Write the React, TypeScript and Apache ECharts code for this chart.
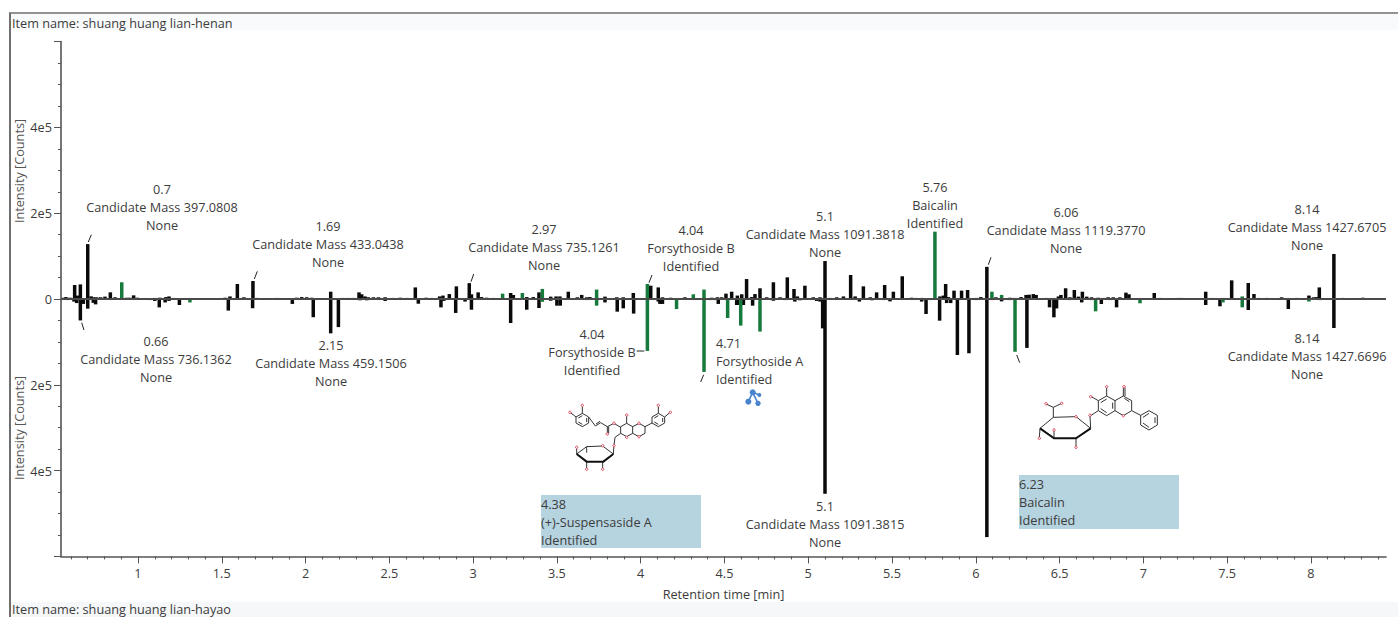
import React, { useEffect, useRef } from "react";
import * as echarts from "echarts";

const xMajorTicks = [1, 1.5, 2, 2.5, 3, 3.5, 4, 4.5, 5, 5.5, 6, 6.5, 7, 7.5, 8];
const xMinorTicks = [0.6,0.7,0.8,0.9,1.1,1.2,1.3,1.4,1.6,1.7,1.8,1.9,2.1,2.2,2.3,2.4,2.6,2.7,2.8,2.9,3.1,3.2,3.3,3.4,3.6,3.7,3.8,3.9,4.1,4.2,4.3,4.4,4.6,4.7,4.8,4.9,5.1,5.2,5.3,5.4,5.6,5.7,5.8,5.9,6.1,6.2,6.3,6.4,6.6,6.7,6.8,6.9,7.1,7.2,7.3,7.4,7.6,7.7,7.8,7.9,8.1,8.2,8.3,8.4];

// [retention time, intensity] : sample above the axis
const upperBlack: [number, number][] = [
  [.555,3000],[.57,4500],[.594,3000],[.622,32600],[.638,8000],[.656,34000],[.70,128000],[.72,6200],[.733,4000],[.749,4000],[.763,3000],[.777,4000],[.803,5500],[.835,15500],[.863,4000],[.932,3000],[.952,3000],[.974,8500],[.996,3000],
  [1.07,1500],[1.10,2500],[1.13,3000],[1.167,4500],[1.185,6000],[1.21,2500],[1.25,1500],[1.34,1500],[1.37,1500],[1.4,1500],[1.43,1000],[1.49,1500],[1.52,3000],[1.549,6000],[1.593,35000],[1.632,4000],[1.686,42000],[1.71,2500],[1.74,1500],[1.77,1500],[1.828,2500],[1.86,1500],[1.92,1500],[1.947,3000],[1.977,4500],[2.007,4000],[2.036,3000],[2.07,1500],[2.15,17000],
  [2.225,2500],[2.255,2500],[2.285,2500],[2.319,15500],[2.335,11000],[2.355,6000],[2.375,4000],[2.405,4000],[2.435,4000],[2.475,4000],[2.525,2500],[2.565,3000],[2.605,2500],[2.655,27000],[2.72,3000],[2.75,2500],[2.8,6000],[2.82,8000],[2.858,11500],[2.90,29500],[2.977,37000],[2.99,11000],[3.03,15500],[3.05,4500],[3.08,3000],[3.12,2500],[3.224,14000],[3.24,9500],[3.32,4500],[3.359,4500],[3.393,15500],[3.463,5500],[3.495,6000],[3.518,6000],[3.568,17000],[3.622,4000],[3.648,9500],[3.678,4000],[3.697,4500],[3.787,5500],[3.857,4000],[3.896,4000],[3.956,14000],[4.0,1500],
  [4.06,31000],[4.105,27000],[4.13,4000],[4.179,3000],[4.215,1500],[4.264,4000],[4.424,3000],[4.458,4000],[4.483,4000],[4.509,12500],[4.543,17000],[4.577,8000],[4.603,11000],[4.632,46500],[4.662,4500],[4.682,11500],[4.712,25000],[4.752,4000],[4.792,39000],[4.832,4000],[4.875,50500],[4.915,23300],[4.935,6000],[4.98,31000],[5.03,4000],[5.07,4000],[5.10,88500],[5.13,2500],[5.17,4000],[5.21,6000],[5.253,56000],[5.28,6000],[5.329,29500],[5.37,4000],[5.408,15500],[5.456,32600],[5.508,17000],[5.561,53000],[5.617,3000],[5.647,2500],[5.677,2500],
  [5.786,6000],[5.806,8000],[5.82,35000],[5.836,4500],[5.87,19500],[5.915,19500],[5.951,21000],[6.005,2500],[6.03,4500],[6.066,75000],[6.12,4000],[6.204,3000],[6.234,2500],[6.27,4500],[6.30,9500],[6.318,10000],[6.343,11500],[6.36,9500],[6.423,2500],[6.493,6000],[6.508,9500],[6.536,25000],[6.562,4000],[6.588,21000],[6.612,5500],[6.636,17000],[6.662,5500],[6.691,4000],[6.73,3000],[6.76,2500],[6.79,4000],[6.82,4000],[6.86,4000],[6.896,14800],[6.914,11000],[6.97,1500],[7.02,1500],[7.065,14000],[7.1,2500],[7.16,1500],[7.21,2500],[7.23,2500],[7.26,1500],[7.3,1000],[7.372,17000],[7.407,2500],[7.437,1500],[7.527,43500],[7.626,37300],[7.66,11700],[7.686,2500],[7.736,2500],[7.825,4000],[7.915,2500],[7.988,8000],[8.015,4000],[8.035,4500],[8.05,27000],[8.137,105000],[8.19,2500],[8.25,1500],[8.31,3000],[8.33,1500],[8.39,1000]
];
const upperGreen: [number, number][] = [
  [.903,39000],[3.176,12500],[3.294,14000],[3.413,23500],[3.737,22000],[4.04,35000],[4.314,11000],[4.378,22000],[5.756,157000],[6.096,17000],[6.154,9500],[7.477,2500],[7.59,6000]
];
// sample below the axis, read as positive counts as on the lower scale
const lowerBlack: [number, number][] = [
  [.577,2500],[.618,6000],[.634,9500],[.656,50000],[.674,11500],[.70,22500],[.733,9000],[.747,12500],
  [1.032,1500],[1.072,2500],[1.10,4500],[1.127,19500],[1.162,8000],[1.185,4500],[1.247,14000],[1.539,27000],[1.684,21500],[1.921,11500],[2.046,42500],[2.15,80000],[2.196,65500],[2.325,3000],[2.365,3000],[2.475,4500],[2.673,11000],[2.808,19500],[2.825,4500],[2.896,32500],[2.952,6000],[2.99,25000],
  [3.08,1500],[3.224,56000],[3.32,25000],[3.393,21000],[3.463,4000],[3.5,15500],[3.52,15500],[3.787,8000],[3.86,29500],[3.896,21800],[3.958,34000],[4.105,6000],[4.115,11500],[4.13,11500],[4.413,2500],[4.463,11500],[4.573,14000],[4.59,14000],[4.603,14000],[4.613,14000],[4.668,15500],[4.792,4000],[4.92,6000],[5.05,4500],[5.07,6000],[5.086,68500],[5.10,454000],[5.305,6000],[5.488,5500],[5.677,6000],[5.703,35000],
  [5.784,50500],[5.826,9500],[5.85,9500],[5.89,130500],[5.959,126500],[6.066,555000],[6.094,2500],[6.154,5500],[6.305,114000],[6.44,19500],[6.466,42700],[6.482,22000],[6.632,8000],[6.691,2500],[6.749,11700],[6.84,19500],[7.372,14000],[7.457,17000],[7.626,25600],[7.865,23300],[8.137,67600]
];
const lowerGreen: [number, number][] = [
  [1.31,8000],[3.413,6500],[3.737,15500],[4.04,121000],[4.214,23500],[4.378,170000],[4.519,44300],[4.597,62000],[4.712,76000],[6.234,123000],[6.715,28700],[6.98,10000],[7.475,8000],[7.59,19500],[7.988,6000]
];
// faint peaks that thicken the zero line into dashes
const traceUpper: [number, number][] = [
  [1.03,2000],[1.28,2000],[1.31,1800],[1.46,2000],[1.58,2000],[1.66,2000],[1.8,2000],[1.89,2200],[2.1,2000],[2.19,1800],[2.5,2000],[2.63,1800],[2.69,2000],[2.78,2200],[2.94,2200],[3.1,2000],[3.15,2200],[3.2,2000],[3.27,2000],[3.34,2200],[3.44,2000],[3.54,2200],[3.6,2000],[3.72,2000],[3.77,2000],[3.82,2200],[3.92,2200],[3.98,2000],[4.16,2200],[4.24,2200],[4.29,2000],[4.35,2200],[4.4,2000],[4.85,2200],[5.0,2200],[5.15,2000],[5.23,2200],[5.35,2000],[5.43,2200],[5.53,2200],[5.59,2000],[5.7,2200],[5.73,2000],[5.99,2000],[6.18,2200],[6.25,2000],[6.38,2000],[6.45,2200],[6.71,2200],[6.94,2200],[6.99,2000],[7.04,2000],[7.13,2200],[7.18,2000],[7.33,2200],[7.35,2000],[7.39,2200],[7.46,2000],[7.5,2200],[7.71,2200],[7.76,2200],[7.79,2000],[7.85,2200],[7.88,2000],[7.94,2200],[7.96,2000],[8.08,2200],[8.11,2000],[8.16,2200],[8.22,2000],[8.28,2200],[8.36,2000],[8.42,1800]
];
const traceLower: [number, number][] = [
  [.79,2000],[.87,1800],[.98,1800],[1.05,1800],[1.22,2000],[1.36,1800],[1.41,1800],[1.47,2000],[1.72,1800],[1.8,1800],[1.88,2000],[1.96,2000],[2.05,1800],[2.27,2000],[2.41,2000],[2.52,1800],[2.58,2000],[2.74,2000],[2.78,1800],[3.15,2000],[3.28,1800],[3.43,2000],[3.6,2000],[3.68,2500],[3.83,2000],[4.0,1800],[4.2,2000],[4.3,1800],[4.44,2500],[4.78,2500],[4.86,2500],[4.95,3000],[5.2,2000],[5.38,3000],[5.45,2500],[5.55,1800],[5.64,2000],[5.73,2500],[6.0,2500],[6.2,2500],[6.56,2500],[6.68,2000],[6.8,2500],[6.93,2000],[7.05,1800],[7.2,1800],[7.41,2000],[7.5,1800],[7.7,1800],[7.9,1800],[8.05,2500],[8.2,1500],[8.3,1500]
];

const annotations = [
  { text: "0.7\nCandidate Mass 397.0808\nNone", x: 162, y: 207 },
  { text: "1.69\nCandidate Mass 433.0438\nNone", x: 328, y: 244 },
  { text: "2.97\nCandidate Mass 735.1261\nNone", x: 544, y: 247 },
  { text: "4.04\nForsythoside B\nIdentified", x: 691, y: 248 },
  { text: "5.1\nCandidate Mass 1091.3818\nNone", x: 825, y: 234 },
  { text: "5.76\nBaicalin\nIdentified", x: 935, y: 205 },
  { text: "6.06\nCandidate Mass 1119.3770\nNone", x: 1066, y: 230 },
  { text: "8.14\nCandidate Mass 1427.6705\nNone", x: 1307, y: 227 },
  { text: "0.66\nCandidate Mass 736.1362\nNone", x: 156, y: 359 },
  { text: "2.15\nCandidate Mass 459.1506\nNone", x: 331, y: 363 },
  { text: "4.04\nForsythoside B\nIdentified", x: 592, y: 352 },
  { text: "5.1\nCandidate Mass 1091.3815\nNone", x: 825, y: 524 },
  { text: "8.14\nCandidate Mass 1427.6696\nNone", x: 1307, y: 356 },
];
const leftAnnotations = [
  { text: "4.71\nForsythoside A\nIdentified", x: 716, y: 361 },
  { text: "4.38\n(+)-Suspensaside A\nIdentified", x: 541, y: 522 },
  { text: "6.23\nBaicalin\nIdentified", x: 1019, y: 502 },
];
const leaders = [
  [88.3,242,91.3,234.7],[254.3,279,257.3,271.3],[84,330,81.7,322.7],[471,281.7,473.7,274],
  [649,282.7,652,275],[636.7,351,644.3,351],[700.7,382,703.7,374.7],[988.3,264.7,991,257.3],[1016.7,355,1019.7,362.7],
];
const highlightBoxes = [
  { x: 541, y: 495, width: 160, height: 53 },
  { x: 1019, y: 475, width: 160, height: 54 },
];

// structure 1 drawing, in 1/3 px units
const mol1Lines = [
  [[157,100],[176,111],[176,129],[157,140],[138,129],[138,111],[157,100]],
  [[145,114],[157,107]],[[145,126],[157,133]],[[170,114],[170,126]],
  [[157,100],[157,80]],[[138,111],[123,99]],
  [[176,111],[196,138],[212,128],[232,140],[252,130],[272,142]],[[198,132],[210,124]],[[232,140],[232,160]],[[236,140],[236,160]],
  [[272,140],[290,130],[308,140],[308,160],[290,170],[272,160],[272,140]],
  [[308,140],[327,130],[345,140],[345,160],[327,170],[308,160]],
  [[345,140],[366,129]],
  [[385,100],[404,111],[404,129],[385,140],[366,129],[366,111],[385,100]],
  [[373,114],[385,107]],[[373,126],[385,133]],[[398,114],[398,126]],
  [[385,100],[385,80]],[[404,111],[418,99]],[[290,130],[290,108]],
  [[272,160],[255,172],[252,195],[250,222]],
  [[140,222],[170,200],[218,198],[250,222]],[[170,200],[170,218]],[[140,222],[140,206]],[[170,245],[170,265]],[[218,245],[218,265]],
];
const mol1Bold = [[[140,222],[170,245],[220,245],[250,222]]];
const mol1Oxygens = [[157,76],[120,97],[385,76],[421,97],[290,105],[252,130],[232,162],[290,172],[327,130],[327,170],[252,197],[218,197],[140,202],[170,268],[218,268]];

// structure 2 drawing, in 1/3 px units
const mol2Lines = [
  [[90,175],[130,142],[198,140],[242,175]],
  [[130,142],[130,112],[108,102]],[[130,112],[155,100]],[[90,175],[88,203]],[[132,205],[132,182]],[[198,205],[198,230]],
  [[242,175],[240,138],[265,122]],
  [[265,122],[265,92],[290,78],[315,92],[315,122],[290,137],[265,122]],
  [[272,98],[290,87]],[[308,98],[308,116]],[[272,116],[290,128]],
  [[315,92],[340,78],[365,92],[365,122],[340,137],[315,122]],
  [[343,85],[358,95]],
  [[340,78],[340,52]],[[345,78],[345,52]],[[290,78],[290,52]],[[265,92],[244,80]],
  [[365,122],[392,136]],
  [[392,136],[417,122],[442,136],[442,165],[417,180],[392,165],[392,136]],
  [[399,142],[417,130]],[[435,142],[435,159]],[[399,159],[417,172]],
];
const mol2Bold = [[[90,175],[132,205],[198,205],[242,175]]];
const mol2Oxygens = [[108,101],[155,100],[88,205],[132,180],[198,232],[198,140],[240,136],[340,137],[342,50],[290,50],[242,80]];

const iconNodes = [[668,37,9],[688,45,6],[655,65,9],[684,70,8]];
const iconLinks = [[[668,37],[688,45]],[[668,37],[655,65]],[[668,37],[684,70]]];

const FONT = "'Open Sans', 'Noto Sans', sans-serif";
const TEXT = "#3c3c3c";
const X_MIN = 0.5405;
const X_MAX = 8.448;
const SIZE = 12.7;

const lineItem = (pts: number[][], ox: number, oy: number, stroke: string, lineWidth: number) => ({
  type: "polyline", silent: true, z: 5,
  shape: { points: pts.map(([a, b]) => [ox + a / 3, oy + b / 3]) },
  style: { stroke, lineWidth, fill: "none" },
});
const dotItem = ([a, b]: number[], ox: number, oy: number) => ({
  type: "circle", silent: true, z: 6,
  shape: { cx: ox + a / 3, cy: oy + b / 3, r: 1.2 },
  style: { fill: "#fff", stroke: "#d8364b", lineWidth: 0.9 },
});

export default function App() {
  const ref = useRef<HTMLDivElement>(null);
  useEffect(() => {
    document.body.style.margin = "0";
    const chart = echarts.init(ref.current!, undefined, { renderer: "svg" });
    const barSeries = (name: string, data: [number, number][], color: string, sign: number, z: number) => ({
      name, type: "bar", barWidth: 3.5, barGap: "-100%", z,
      itemStyle: { color },
      data: data.map(([t, v]) => [t, sign * v]),
    });
    const graphics: any[] = [
      { type: "rect", silent: true, z: 0, shape: { x: 11, y: 14, width: 1387, height: 16 }, style: { fill: "#f8fafb" } },
      { type: "rect", silent: true, z: 0, shape: { x: 11, y: 602, width: 1387, height: 15 }, style: { fill: "#f5f7f9" } },
      { type: "line", silent: true, z: 1, shape: { x1: 9, y1: 13, x2: 1398, y2: 13 }, style: { stroke: "#6f6f6f", lineWidth: 1.6 } },
      { type: "line", silent: true, z: 1, shape: { x1: 10, y1: 13, x2: 10, y2: 617 }, style: { stroke: "#6f6f6f", lineWidth: 2 } },
      { type: "text", silent: true, z: 3, x: 12, y: 23, style: { text: "Item name: shuang huang lian-henan", font: `${SIZE}px ${FONT}`, fill: TEXT, verticalAlign: "middle" } },
      { type: "text", silent: true, z: 3, x: 12, y: 609, style: { text: "Item name: shuang huang lian-hayao", font: `${SIZE}px ${FONT}`, fill: TEXT, verticalAlign: "middle" } },
      { type: "text", silent: true, z: 3, x: 19, y: 171, rotation: Math.PI / 2, style: { text: "Intensity [Counts]", font: `${SIZE}px ${FONT}`, fill: "#555", align: "center", verticalAlign: "middle" } },
      { type: "text", silent: true, z: 3, x: 19, y: 428, rotation: Math.PI / 2, style: { text: "Intensity [Counts]", font: `${SIZE}px ${FONT}`, fill: "#555", align: "center", verticalAlign: "middle" } },
    ];
    highlightBoxes.forEach((b) => graphics.push({ type: "rect", silent: true, z: 2, shape: b, style: { fill: "#b6d3e0" } }));
    annotations.forEach((a) => graphics.push({
      type: "text", silent: true, z: 7, x: a.x, y: a.y,
      style: { text: a.text, font: `${SIZE}px ${FONT}`, fill: TEXT, align: "center", verticalAlign: "middle", lineHeight: 18 },
    }));
    leftAnnotations.forEach((a) => graphics.push({
      type: "text", silent: true, z: 7, x: a.x, y: a.y,
      style: { text: a.text, font: `${SIZE}px ${FONT}`, fill: TEXT, align: "left", verticalAlign: "middle", lineHeight: 18 },
    }));
    leaders.forEach(([x1, y1, x2, y2]) => graphics.push({
      type: "line", silent: true, z: 7, shape: { x1, y1, x2, y2 }, style: { stroke: "#222", lineWidth: 1 },
    }));
    mol1Lines.forEach((p) => graphics.push(lineItem(p, 530, 380, "#333", 1)));
    mol1Bold.forEach((p) => graphics.push(lineItem(p, 530, 380, "#111", 2)));
    mol1Oxygens.forEach((p) => graphics.push(dotItem(p, 530, 380)));
    mol2Lines.forEach((p) => graphics.push(lineItem(p, 1010, 370, "#333", 1)));
    mol2Bold.forEach((p) => graphics.push(lineItem(p, 1010, 370, "#111", 2)));
    mol2Oxygens.forEach((p) => graphics.push(dotItem(p, 1010, 370)));
    iconLinks.forEach((p) => graphics.push(lineItem(p, 530, 380, "#4a84cf", 1.6)));
    iconNodes.forEach(([a, b, r]) => graphics.push({
      type: "circle", silent: true, z: 6,
      shape: { cx: 530 + a / 3, cy: 380 + b / 3, r: r / 3 }, style: { fill: "#4a84cf" },
    }));

    chart.setOption({
      animation: false,
      backgroundColor: "#fff",
      grid: { left: 61, right: 12, top: 41.6, height: 514.8, containLabel: false },
      xAxis: [
        {
          type: "value", min: X_MIN, max: X_MAX, position: "bottom",
          name: "Retention time [min]", nameLocation: "middle", nameGap: 31,
          nameTextStyle: { fontFamily: FONT, fontSize: SIZE, color: TEXT },
          splitLine: { show: false },
          axisLine: { show: true, onZero: false, lineStyle: { color: "#555", width: 1.6 } },
          axisTick: { show: true, length: 7, customValues: xMajorTicks, lineStyle: { color: "#555", width: 1 } },
          axisLabel: { show: true, margin: 10, customValues: xMajorTicks, fontFamily: FONT, fontSize: SIZE, color: TEXT, formatter: (v: number) => String(v) },
        },
        {
          type: "value", min: X_MIN, max: X_MAX, position: "bottom",
          splitLine: { show: false },
          axisLine: { show: false, onZero: false },
          axisTick: { show: true, length: 3, customValues: xMinorTicks, lineStyle: { color: "#555", width: 1 } },
          axisLabel: { show: false },
        },
      ],
      yAxis: {
        type: "value", min: -600000, max: 600000, interval: 200000, position: "left",
        splitLine: { show: false }, minorSplitLine: { show: false },
        axisLine: { show: true, onZero: false, lineStyle: { color: "#555", width: 1.6 } },
        axisTick: { show: true, length: 7, lineStyle: { color: "#555", width: 1 } },
        minorTick: { show: true, splitNumber: 4, length: 3, lineStyle: { color: "#555", width: 1 } },
        axisLabel: {
          margin: 9, fontFamily: FONT, fontSize: SIZE, color: TEXT,
          formatter: (v: number) => {
            const a = Math.abs(v);
            return a === 0 ? "0" : a === 600000 ? "" : `${a / 100000}e5`;
          },
        },
      },
      series: [
        barSeries("upperBlack", upperBlack, "#0a0a0a", 1, 2),
        barSeries("lowerBlack", lowerBlack, "#0a0a0a", -1, 2),
        barSeries("traceUpper", traceUpper, "#0a0a0a", 1, 2),
        barSeries("traceLower", traceLower, "#0a0a0a", -1, 2),
        barSeries("upperGreen", upperGreen, "#167a3c", 1, 3),
        barSeries("lowerGreen", lowerGreen, "#167a3c", -1, 3),
        {
          name: "baseline", type: "line", symbol: "none", z: 4, silent: true,
          lineStyle: { color: "#4a4a4a", width: 1.8 },
          data: [[X_MIN, 0], [X_MAX, 0]],
        },
      ],
      graphic: { elements: graphics },
    });
    return () => chart.dispose();
  }, []);
  return <div ref={ref} style={{ position: "fixed", left: 0, top: 0, width: 1398, height: 617 }} />;
}
